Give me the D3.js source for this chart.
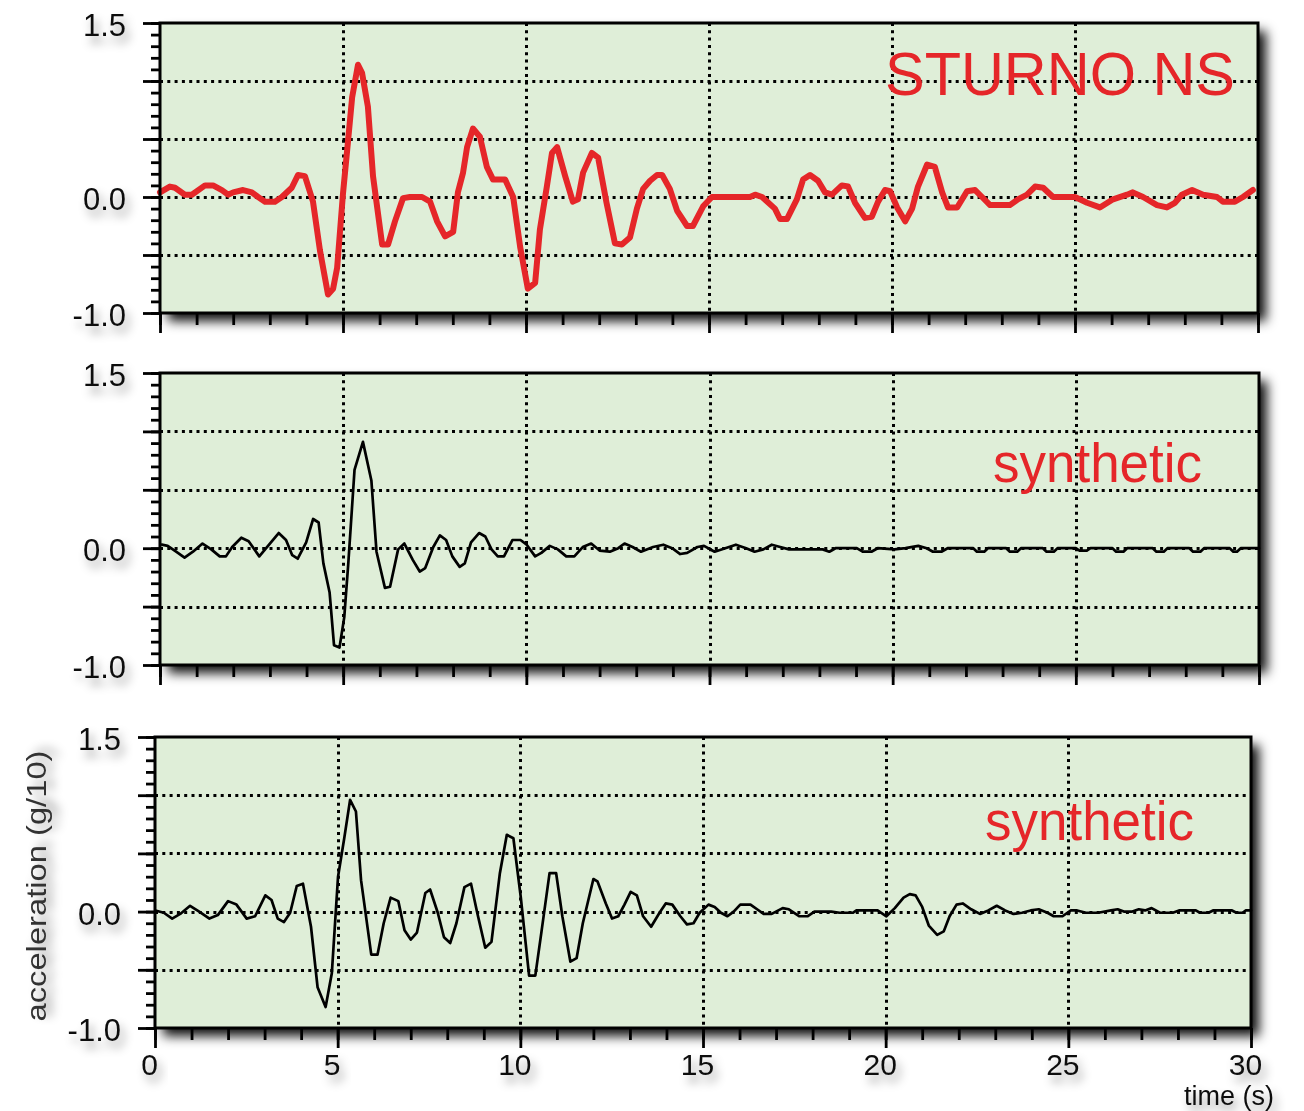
<!DOCTYPE html>
<html>
<head>
<meta charset="utf-8">
<script src="https://cdn.jsdelivr.net/npm/d3@7"></script>
<style>
  body { margin: 0; background: #fff; }
  text { font-family: "Liberation Sans", Arial, Helvetica, sans-serif; }
</style>
</head>
<body>
<div id="chart"></div>
<script>
// axis ticks
var timeTicks = [0, 5, 10, 15, 20, 25, 30];
var timeGrid = [5, 10, 15, 20, 25];
var accMajor = [-1.0, -0.5, 0.0, 0.5, 1.0, 1.5];
var accLabels = [1.5, 0.0, -1.0];
var accGrid = [-0.5, 0.0, 0.5, 1.0];

// recorded trace [time (s), acceleration (g/10)]
var sturnoNS = [[0,0.04],[0.27,0.09],[0.41,0.08],[0.68,0.02],[0.87,0.02],[1.23,0.1],[1.45,0.1],[1.69,0.06],[1.86,0.02],[2.0,0.04],[2.27,0.06],[2.51,0.04],[2.68,0.0],[2.87,-0.04],[3.14,-0.04],[3.33,0.0],[3.6,0.08],[3.77,0.19],[3.96,0.18],[4.18,-0.04],[4.37,-0.46],[4.59,-0.84],[4.73,-0.79],[4.84,-0.61],[5.0,0.03],[5.14,0.49],[5.25,0.86],[5.41,1.14],[5.52,1.07],[5.68,0.78],[5.82,0.18],[6.07,-0.41],[6.23,-0.41],[6.42,-0.21],[6.64,-0.01],[6.83,0.0],[7.16,0.0],[7.38,-0.04],[7.57,-0.21],[7.79,-0.34],[8.01,-0.3],[8.14,0.04],[8.28,0.21],[8.39,0.43],[8.55,0.59],[8.74,0.52],[8.93,0.26],[9.1,0.15],[9.43,0.15],[9.65,0.0],[9.84,-0.43],[10.05,-0.79],[10.25,-0.74],[10.38,-0.28],[10.57,0.09],[10.71,0.38],[10.85,0.43],[11.07,0.18],[11.28,-0.04],[11.42,-0.02],[11.56,0.21],[11.8,0.38],[11.97,0.34],[12.2,-0.05],[12.43,-0.4],[12.62,-0.41],[12.84,-0.35],[13.03,-0.1],[13.2,0.07],[13.39,0.14],[13.58,0.19],[13.72,0.19],[13.93,0.07],[14.13,-0.12],[14.4,-0.25],[14.56,-0.25],[14.84,-0.08],[15.08,0.0],[16.12,0.0],[16.26,0.02],[16.45,0.0],[16.8,-0.1],[16.94,-0.19],[17.13,-0.19],[17.4,-0.02],[17.57,0.15],[17.76,0.19],[17.98,0.14],[18.17,0.04],[18.36,0.02],[18.63,0.1],[18.8,0.09],[18.99,-0.05],[19.26,-0.18],[19.45,-0.17],[19.62,-0.04],[19.81,0.06],[19.95,0.05],[20.14,-0.09],[20.36,-0.21],[20.55,-0.1],[20.71,0.09],[20.96,0.28],[21.17,0.26],[21.37,0.04],[21.53,-0.09],[21.78,-0.09],[22.05,0.05],[22.27,0.06],[22.46,0.0],[22.68,-0.07],[23.22,-0.07],[23.44,-0.02],[23.69,0.02],[23.91,0.09],[24.13,0.08],[24.4,0.0],[25.0,0.0],[25.33,-0.05],[25.68,-0.09],[26.04,-0.02],[26.42,0.02],[26.58,0.04],[26.86,0.0],[27.24,-0.07],[27.51,-0.09],[27.73,-0.05],[27.92,0.02],[28.2,0.06],[28.5,0.02],[28.88,0.0],[29.04,-0.04],[29.37,-0.04],[29.59,0.0],[29.86,0.06]];

// first synthetic
var synthetic1 = [[0.05,0.03],[0.21,0.02],[0.44,-0.03],[0.67,-0.08],[0.9,-0.03],[1.16,0.04],[1.4,-0.01],[1.63,-0.07],[1.8,-0.07],[1.97,0.01],[2.22,0.09],[2.42,0.06],[2.71,-0.07],[3.0,0.04],[3.24,0.13],[3.44,0.07],[3.61,-0.06],[3.76,-0.09],[3.99,0.05],[4.18,0.25],[4.33,0.22],[4.46,-0.13],[4.63,-0.38],[4.75,-0.83],[4.9,-0.85],[5.03,-0.59],[5.14,-0.13],[5.31,0.67],[5.54,0.91],[5.77,0.58],[5.91,-0.03],[6.14,-0.34],[6.28,-0.33],[6.5,-0.01],[6.67,0.04],[6.9,-0.1],[7.09,-0.2],[7.24,-0.17],[7.46,0.01],[7.64,0.11],[7.81,0.07],[7.98,-0.07],[8.18,-0.16],[8.32,-0.13],[8.49,0.05],[8.71,0.13],[8.88,0.1],[9.05,-0.01],[9.22,-0.07],[9.39,-0.07],[9.62,0.07],[9.84,0.07],[10.01,0.03],[10.24,-0.07],[10.41,-0.04],[10.64,0.02],[10.86,-0.01],[11.09,-0.07],[11.31,-0.07],[11.54,0.01],[11.77,0.04],[12.0,-0.02],[12.28,-0.03],[12.51,0.0],[12.68,0.04],[12.9,0.01],[13.13,-0.03],[13.46,0.01],[13.74,0.03],[13.98,0.0],[14.2,-0.05],[14.39,-0.04],[14.67,0.01],[14.85,0.02],[15.14,-0.03],[15.43,0.0],[15.72,0.03],[16.0,0.0],[16.23,-0.03],[16.47,-0.01],[16.7,0.03],[16.93,0.01],[17.17,-0.01],[18.09,-0.01],[18.27,-0.03],[18.44,0.0],[19.02,0.0],[19.18,-0.03],[19.42,-0.03],[19.59,0.0],[20.05,-0.01],[20.35,0.0],[20.7,0.02],[20.93,0.0],[21.1,-0.03],[21.33,-0.03],[21.5,0.0],[22.2,0.0],[22.3,-0.03],[22.5,-0.03],[22.6,0.0],[23.1,0.0],[23.2,-0.03],[23.4,-0.03],[23.5,0.0],[24.1,0.0],[24.2,-0.03],[24.4,-0.03],[24.5,0.0],[25.0,0.0],[25.1,-0.02],[25.3,-0.02],[25.4,0.0],[26.0,0.0],[26.1,-0.03],[26.3,-0.03],[26.4,0.0],[27.1,0.0],[27.2,-0.03],[27.4,-0.03],[27.5,0.0],[28.1,0.0],[28.2,-0.03],[28.4,-0.03],[28.5,0.0],[29.2,0.0],[29.3,-0.03],[29.4,-0.03],[29.5,0.0],[30,0.0]];

// second synthetic
var synthetic2 = [[0.01,0.01],[0.24,-0.01],[0.47,-0.06],[0.69,-0.02],[0.96,0.05],[1.21,0.0],[1.49,-0.06],[1.72,-0.03],[2.0,0.09],[2.23,0.06],[2.51,-0.06],[2.74,-0.04],[3.02,0.14],[3.19,0.1],[3.36,-0.06],[3.53,-0.09],[3.7,-0.01],[3.88,0.22],[4.05,0.24],[4.27,-0.13],[4.45,-0.65],[4.67,-0.82],[4.84,-0.53],[5.01,0.3],[5.18,0.63],[5.34,0.96],[5.5,0.86],[5.64,0.27],[5.92,-0.37],[6.09,-0.37],[6.26,-0.1],[6.45,0.12],[6.66,0.09],[6.83,-0.16],[7.0,-0.24],[7.17,-0.18],[7.4,0.16],[7.53,0.19],[7.74,-0.01],[7.91,-0.22],[8.08,-0.27],[8.25,-0.1],[8.47,0.21],[8.65,0.24],[8.82,-0.01],[9.04,-0.31],[9.21,-0.26],[9.44,0.33],[9.63,0.66],[9.81,0.63],[10.01,0.13],[10.24,-0.55],[10.41,-0.55],[10.58,-0.17],[10.8,0.33],[10.98,0.33],[11.15,-0.04],[11.37,-0.43],[11.54,-0.4],[11.71,-0.1],[12.0,0.28],[12.11,0.26],[12.34,0.07],[12.51,-0.06],[12.68,-0.04],[12.85,0.06],[13.02,0.17],[13.19,0.14],[13.36,-0.04],[13.58,-0.13],[13.81,-0.01],[13.98,0.07],[14.16,0.06],[14.38,-0.04],[14.56,-0.11],[14.74,-0.1],[14.91,-0.01],[15.15,0.06],[15.32,0.04],[15.49,-0.01],[15.67,-0.04],[15.84,0.0],[16.02,0.06],[16.3,0.06],[16.48,0.02],[16.66,-0.02],[16.88,-0.02],[17.18,0.03],[17.35,0.02],[17.64,-0.04],[17.86,-0.04],[18.05,0.0],[18.51,0.0],[18.74,-0.01],[19.1,-0.01],[19.2,0.01],[19.78,0.01],[20.02,-0.04],[20.25,0.03],[20.49,0.12],[20.66,0.15],[20.82,0.14],[21.0,0.04],[21.18,-0.12],[21.41,-0.2],[21.59,-0.17],[21.75,-0.04],[21.94,0.06],[22.11,0.07],[22.34,0.02],[22.58,-0.02],[22.81,0.01],[23.04,0.05],[23.27,0.01],[23.5,-0.02],[23.73,-0.01],[23.97,0.01],[24.19,0.02],[24.43,-0.01],[24.6,-0.04],[24.84,-0.04],[25.07,0.01],[25.24,0.01],[25.48,-0.01],[25.82,-0.01],[26.17,0.01],[26.35,0.02],[26.52,0.0],[26.75,0.0],[26.93,0.02],[27.1,0.01],[27.28,0.03],[27.51,-0.01],[27.86,-0.01],[28.03,0.01],[28.49,0.01],[28.6,-0.01],[28.84,-0.01],[28.96,0.01],[29.48,0.01],[29.6,-0.01],[29.77,-0.01],[29.86,0.01],[30.0,0.01]];

var panels = [
  { data: sturnoNS, label: "STURNO NS", left: 160, right: 1258, top: 23, bottom: 313,
    stroke: "#e52629", lineWidth: 6, labelX: 1235, labelY: 95, labelSize: 62, labelLen: 350, xLabels: false },
  { data: synthetic1, label: "synthetic", left: 160, right: 1259, top: 373, bottom: 665,
    stroke: "#000", lineWidth: 2.7, labelX: 1202, labelY: 482, labelSize: 55, labelLen: 209, xLabels: false },
  { data: synthetic2, label: "synthetic", left: 155, right: 1251, top: 737, bottom: 1028,
    stroke: "#000", lineWidth: 2.7, labelX: 1194, labelY: 840, labelSize: 55, labelLen: 209, xLabels: true }
];

var svg = d3.select("#chart").append("svg")
  .attr("width", 1304)
  .attr("height", 1111);

var defs = svg.append("defs");

var boxShadow = defs.append("filter").attr("id", "boxShadow")
  .attr("x", "-10%").attr("y", "-10%").attr("width", "125%").attr("height", "135%");
boxShadow.append("feDropShadow")
  .attr("dx", 8).attr("dy", 8).attr("stdDeviation", 6)
  .attr("flood-color", "#000").attr("flood-opacity", 0.95);

var textShadow = defs.append("filter").attr("id", "textShadow")
  .attr("x", "-60%").attr("y", "-60%").attr("width", "220%").attr("height", "220%");
textShadow.append("feDropShadow")
  .attr("dx", 4).attr("dy", 7).attr("stdDeviation", 5)
  .attr("flood-color", "#000").attr("flood-opacity", 0.4);

panels.forEach(function(p) {
  var x = d3.scaleLinear().domain([0, 30]).range([p.left, p.right]);
  var y = d3.scaleLinear().domain([-1.0, 1.5]).range([p.bottom, p.top]);

  var g = svg.append("g");

  // background with drop shadow
  g.append("rect")
    .attr("x", p.left).attr("y", p.top)
    .attr("width", p.right - p.left).attr("height", p.bottom - p.top)
    .attr("fill", "#dfeed8")
    .attr("filter", "url(#boxShadow)");

  // dotted grid
  g.selectAll(".hgrid").data(accGrid).enter().append("line")
    .attr("x1", p.left).attr("x2", p.right)
    .attr("y1", function(d) { return Math.round(y(d)) + 0.5; })
    .attr("y2", function(d) { return Math.round(y(d)) + 0.5; })
    .attr("stroke", "#000").attr("stroke-width", 3)
    .attr("stroke-dasharray", "3,4.3");
  g.selectAll(".vgrid").data(timeGrid).enter().append("line")
    .attr("y1", p.top).attr("y2", p.bottom)
    .attr("x1", function(d) { return Math.round(x(d)) + 0.5; })
    .attr("x2", function(d) { return Math.round(x(d)) + 0.5; })
    .attr("stroke", "#000").attr("stroke-width", 3)
    .attr("stroke-dasharray", "3,4.3");

  // trace
  var line = d3.line()
    .x(function(d) { return x(d[0]); })
    .y(function(d) { return y(d[1]); });
  g.append("path")
    .datum(p.data)
    .attr("d", line)
    .attr("fill", "none")
    .attr("stroke", p.stroke)
    .attr("stroke-width", p.lineWidth)
    .attr("stroke-linejoin", "round")
    .attr("stroke-linecap", "round");

  // frame
  g.append("rect")
    .attr("x", p.left).attr("y", p.top)
    .attr("width", p.right - p.left).attr("height", p.bottom - p.top)
    .attr("fill", "none").attr("stroke", "#000").attr("stroke-width", 3);

  // y axis: minor and major ticks
  var yMinor = d3.axisLeft(y)
    .tickValues(d3.range(-10, 16).map(function(i) { return i / 10; }))
    .tickSize(9).tickFormat("");
  var yMajor = d3.axisLeft(y)
    .tickValues(accMajor)
    .tickSize(17).tickPadding(17)
    .tickFormat(function(d) { return accLabels.indexOf(d) >= 0 ? d.toFixed(1) : ""; });

  [yMinor, yMajor].forEach(function(ax) {
    var a = g.append("g").attr("transform", "translate(" + p.left + ",0)").call(ax);
    a.select(".domain").remove();
    a.selectAll("line").attr("stroke", "#000").attr("stroke-width", 2.8);
    a.selectAll("text")
      .attr("fill", "#111")
      .style("font-size", "31px")
      .attr("dy", "0.4em")
      .attr("filter", "url(#textShadow)");
  });

  // x axis: minor and major ticks
  var xMinor = d3.axisBottom(x).tickValues(d3.range(0, 31)).tickSize(12).tickFormat("");
  var xMajor = d3.axisBottom(x).tickValues(timeTicks).tickSize(20).tickPadding(6)
    .tickFormat(function(d) { return p.xLabels ? d : ""; });

  [xMinor, xMajor].forEach(function(ax) {
    var a = g.append("g").attr("transform", "translate(0," + p.bottom + ")").call(ax);
    a.select(".domain").remove();
    a.selectAll("line").attr("stroke", "#000").attr("stroke-width", 2.8);
    a.selectAll("text")
      .attr("fill", "#111")
      .attr("dx", -6)
      .style("font-size", "30px")
      .attr("filter", "url(#textShadow)");
  });

  // panel label
  g.append("text")
    .attr("x", p.labelX).attr("y", p.labelY)
    .attr("text-anchor", "end")
    .attr("textLength", p.labelLen)
    .attr("lengthAdjust", "spacingAndGlyphs")
    .style("font-size", p.labelSize + "px")
    .attr("fill", "#e52629")
    .text(p.label);
});

// axis titles
svg.append("text")
  .attr("transform", "translate(46,886) rotate(-90)")
  .attr("text-anchor", "middle")
  .attr("textLength", 271)
  .attr("lengthAdjust", "spacingAndGlyphs")
  .style("font-size", "28px")
  .attr("fill", "#333")
  .attr("filter", "url(#textShadow)")
  .text("acceleration (g/10)");

svg.append("text")
  .attr("x", 1274).attr("y", 1105)
  .attr("text-anchor", "end")
  .style("font-size", "27px")
  .attr("fill", "#111")
  .attr("filter", "url(#textShadow)")
  .text("time (s)");
</script>
</body>
</html>
